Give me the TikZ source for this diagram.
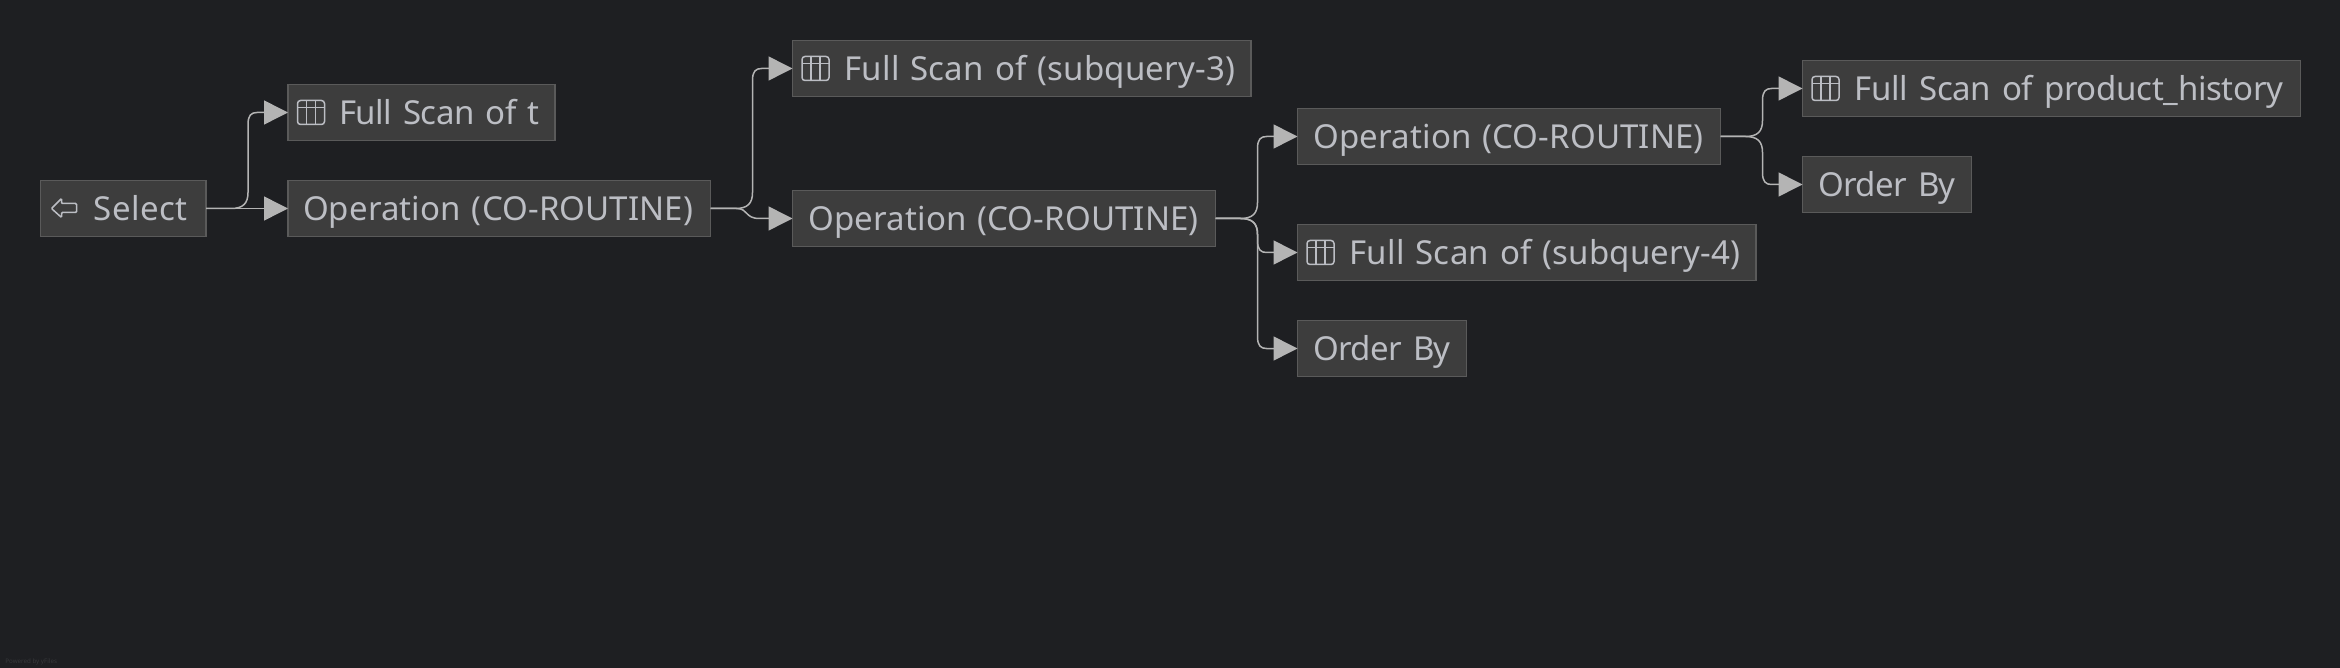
\documentclass[tikz,border=0pt]{standalone}
\usepackage{fontspec}
\setmainfont[WordSpace=0.65]{Noto Sans}
\newfontfamily\creditfont{Noto Sans}
\usetikzlibrary{arrows.meta,calc}
\definecolor{bgc}{HTML}{1E1F22}
\definecolor{boxfill}{HTML}{3D3D3D}
\definecolor{boxline}{HTML}{5A5A5A}
\definecolor{txt}{HTML}{BCBEC4}
\definecolor{edgec}{HTML}{B4B4B4}
\definecolor{faint}{HTML}{37383B}
\newcommand{\trk}[1]{\addfontfeature{LetterSpace=#1}}
\tikzset{
  x=0.5pt,y=-0.5pt,
  box/.style={draw=boxline,fill=boxfill,line width=0.6pt,anchor=north west,inner sep=0pt,outer sep=0pt,
    text height=20pt,text depth=8pt,text=txt,align=left,font=\fontsize{16.5}{20}\selectfont},
  edge/.style={draw=edgec,line width=0.75pt,-{Triangle[length=12pt,width=12pt]}},
  icon/.style={draw=txt,line width=0.75pt,rounded corners=1.5pt},
}
\newcommand{\conn}[3]{%
  \draw[edge] (#1.east) -- ($(#1.east)+(25,0)$)
    .. controls ($(#1.east)+(37,0)$) and ($(#1.east)+(42,#3*5)$) .. ($(#1.east)+(42,#3*16)$)
    -- ($(#2.west)+(-40,-#3*12)$)
    .. controls ($(#2.west)+(-40,-#3*3)$) and ($(#2.west)+(-37,0)$) .. ($(#2.west)+(-31,0)$)
    -- (#2.west);}
\newcommand{\tableicon}[1]{%
  \begin{scope}[shift={(#1.west)}]
    \draw[icon] (9.5,-12) rectangle (36.5,12);
    \draw[icon,rounded corners=0pt] (9.5,-5) -- (36.5,-5) (18.5,-12) -- (18.5,12) (27.5,-12) -- (27.5,12);
  \end{scope}}
\begin{document}
\begin{tikzpicture}
\useasboundingbox (0,0) rectangle (2340,668);
\fill[bgc] (0,0) rectangle (2340,668);
\node[box,text width=82.75pt] (sel) at (40.5,180.5) {\hspace*{26.5pt}{\trk{1.5}Select}};
\node[box,text width=133.5pt] (fst) at (288,84.5) {\hspace*{25.5pt}{\trk{-1.4}Full Scan of t}};
\node[box,text width=211.25pt] (op1) at (288,180.5) {\hspace*{7.5pt}{\trk{0.4}Operation (CO-ROUTINE)}};
\node[box,text width=229.25pt] (sub3) at (792.5,40.5) {\hspace*{26pt}{\trk{0.6}Full Scan of (subquery-3)}};
\node[box,text width=211.5pt] (op2) at (792.5,190.5) {\hspace*{8pt}{\trk{0.4}Operation (CO-ROUTINE)}};
\node[box,text width=211.5pt] (op3) at (1297.5,108.5) {\hspace*{8pt}{\trk{0.4}Operation (CO-ROUTINE)}};
\node[box,text width=229.25pt] (sub4) at (1297.5,224.5) {\hspace*{26pt}{\trk{0.6}Full Scan of (subquery-4)}};
\node[box,text width=84.5pt] (ob1) at (1297.5,320.5) {\hspace*{8pt}{\trk{-2}Order By}};
\node[box,text width=249pt] (prod) at (1802.5,60.5) {\hspace*{26pt}{\trk{-0.9}Full Scan of product\_history}};
\node[box,text width=84.5pt] (ob2) at (1802.5,156.5) {\hspace*{8pt}{\trk{-2}Order By}};
\node[anchor=base west,inner sep=0pt,text=faint,font=\creditfont\fontsize{3.1}{4}\selectfont] (credit) at (5,663) {Powered by yFiles};
\tableicon{fst}\tableicon{sub3}\tableicon{sub4}\tableicon{prod}
\begin{scope}[shift={(sel.west)}]
  \draw[icon,rounded corners=0.5pt] (11,0) -- (21,-10) -- (21,-5) -- (36,-5) -- (36,4) -- (21,4) -- (21,9) -- cycle;
\end{scope}
\conn{sel}{fst}{-1}
\draw[edge] (sel) -- (op1);
\conn{op1}{sub3}{-1}
\draw[edge] (op1.east) -- ($(op1.east)+(26,0)$) .. controls ($(op1.east)+(38,0)$) and ($(op2.west)+(-48,0)$) .. ($(op2.west)+(-33,0)$) -- (op2.west);
\conn{op2}{op3}{-1}
\conn{op2}{sub4}{1}
\conn{op2}{ob1}{1}
\conn{op3}{prod}{-1}
\conn{op3}{ob2}{1}
\end{tikzpicture}
\end{document}
